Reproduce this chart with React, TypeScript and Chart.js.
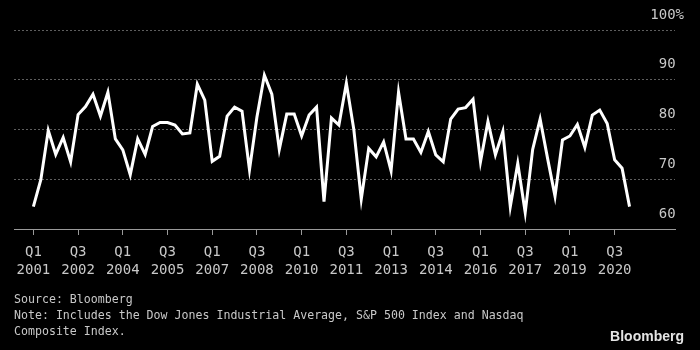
import React, { useEffect, useRef } from "react";
import { Chart, registerables } from "chart.js";

Chart.register(...registerables);

const quarters = [
  "Q1 2001", "Q2 2001", "Q3 2001", "Q4 2001",
  "Q1 2002", "Q2 2002", "Q3 2002", "Q4 2002",
  "Q1 2003", "Q2 2003", "Q3 2003", "Q4 2003",
  "Q1 2004", "Q2 2004", "Q3 2004", "Q4 2004",
  "Q1 2005", "Q2 2005", "Q3 2005", "Q4 2005",
  "Q1 2006", "Q2 2006", "Q3 2006", "Q4 2006",
  "Q1 2007", "Q2 2007", "Q3 2007", "Q4 2007",
  "Q1 2008", "Q2 2008", "Q3 2008", "Q4 2008",
  "Q1 2009", "Q2 2009", "Q3 2009", "Q4 2009",
  "Q1 2010", "Q2 2010", "Q3 2010", "Q4 2010",
  "Q1 2011", "Q2 2011", "Q3 2011", "Q4 2011",
  "Q1 2012", "Q2 2012", "Q3 2012", "Q4 2012",
  "Q1 2013", "Q2 2013", "Q3 2013", "Q4 2013",
  "Q1 2014", "Q2 2014", "Q3 2014", "Q4 2014",
  "Q1 2015", "Q2 2015", "Q3 2015", "Q4 2015",
  "Q1 2016", "Q2 2016", "Q3 2016", "Q4 2016",
  "Q1 2017", "Q2 2017", "Q3 2017", "Q4 2017",
  "Q1 2018", "Q2 2018", "Q3 2018", "Q4 2018",
  "Q1 2019", "Q2 2019", "Q3 2019", "Q4 2019",
  "Q1 2020", "Q2 2020", "Q3 2020", "Q4 2020",
  "Q1 2021",
];

const shares = [
  64.5, 69.9, 79.8, 75.0, 78.4, 73.5, 83.0, 84.6, 87.1, 82.7,
  87.5, 78.1, 75.9, 70.9, 78.1, 75.0, 80.6, 81.4, 81.4, 80.9,
  79.1, 79.3, 89.1, 85.9, 73.6, 74.6, 82.7, 84.5, 83.7, 71.9,
  82.5, 90.9, 87.1, 76.0, 83.1, 83.1, 78.7, 82.9, 84.5, 65.5,
  82.3, 80.9, 89.3, 80.0, 66.0, 76.2, 74.5, 77.5, 71.7, 87.5,
  78.1, 78.1, 75.4, 79.6, 74.9, 73.5, 82.1, 84.1, 84.4, 86.1,
  73.5, 81.6, 74.9, 79.6, 64.5, 73.2, 63.3, 76.0, 82.1, 74.2,
  66.6, 77.9, 78.7, 81.0, 76.4, 82.9, 83.9, 81.2, 73.9, 72.2,
  64.5,
];

const tickLabels = [
  "Q1 2001", "Q3 2002", "Q1 2004", "Q3 2005", "Q1 2007", "Q3 2008", "Q1 2010",
  "Q3 2011", "Q1 2013", "Q3 2014", "Q1 2016", "Q3 2017", "Q1 2019", "Q3 2020",
];

const yTicks = [60, 70, 80, 90, 100];

const footerLines = [
  "Source: Bloomberg",
  "Note: Includes the Dow Jones Industrial Average, S&P 500 Index and Nasdaq",
  "Composite Index.",
];

const MONO = "'DejaVu Sans Mono', monospace";
const TEXT = "#c8c8c8";

const logoPlugin = {
  id: "logo",
  afterDraw(chart: any) {
    const ctx = chart.ctx;
    ctx.save();
    ctx.font = "bold 14px 'Liberation Sans', Arial, sans-serif";
    ctx.fillStyle = "#e4e4e4";
    ctx.textAlign = "right";
    ctx.textBaseline = "middle";
    ctx.fillText("Bloomberg", 684, 337);
    ctx.restore();
  },
};

export default function App() {
  const ref = useRef<HTMLCanvasElement | null>(null);

  useEffect(() => {
    if (!ref.current) return;
    const chart = new Chart(ref.current, {
      type: "line",
      data: {
        datasets: [
          {
            data: shares.map((v, i) => ({ x: i, y: v })),
            borderColor: "#ffffff",
            borderWidth: 3,
            pointRadius: 0,
            tension: 0,
            fill: false,
          },
        ],
      },
      options: {
        animation: false,
        responsive: false,
        maintainAspectRatio: false,
        layout: { padding: { left: 14, right: 7, top: 30, bottom: 10 } },
        plugins: {
          legend: { display: false },
          tooltip: { enabled: false },
          title: {
            display: true,
            position: "bottom",
            align: "start",
            text: footerLines,
            color: TEXT,
            font: { family: MONO, size: 11.6, weight: "normal", lineHeight: "16px" },
            padding: { top: 5, bottom: 0 },
          },
        },
        scales: {
          x: {
            type: "linear",
            min: -2.6,
            max: 86.1,
            afterBuildTicks: (axis: any) => {
              axis.ticks = tickLabels.map((l) => ({ value: quarters.indexOf(l) }));
            },
            grid: {
              drawOnChartArea: false,
              drawTicks: true,
              tickLength: 6,
              color: "#9a9a9a",
            },
            border: { display: true, color: "#9a9a9a", width: 1 },
            ticks: {
              autoSkip: false,
              maxRotation: 0,
              padding: 8,
              color: TEXT,
              font: { family: MONO, size: 14, lineHeight: "18px" },
              callback: (value: any) => {
                const q = quarters[Math.round(Number(value))];
                return q ? q.split(" ") : "";
              },
            },
          },
          y: {
            position: "right",
            min: 60,
            max: 100,
            afterBuildTicks: (axis: any) => {
              axis.ticks = yTicks.map((v) => ({ value: v }));
            },
            grid: {
              drawTicks: false,
              color: "#5e5e5e",
              lineWidth: 1,
            },
            border: { display: false, dash: [2, 2] },
            ticks: {
              mirror: true,
              padding: 9,
              labelOffset: -15,
              color: TEXT,
              font: { family: MONO, size: 14 },
              callback: (value: any) => (Number(value) === 100 ? "100%" : value + " "),
            },
          },
        },
      },
      plugins: [logoPlugin],
    });
    return () => chart.destroy();
  }, []);

  return (
    <div
      style={{
        position: "fixed",
        left: 0,
        top: 0,
        width: 700,
        height: 350,
        background: "#000",
      }}
    >
      <canvas ref={ref} width={700} height={350} style={{ display: "block" }} />
    </div>
  );
}
